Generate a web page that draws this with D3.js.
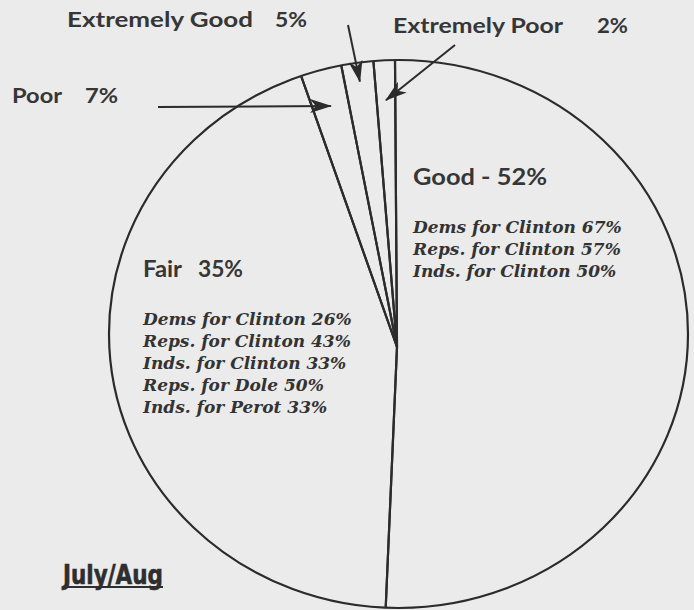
<!DOCTYPE html>
<html>
<head>
<meta charset="utf-8">
<script src="https://cdn.jsdelivr.net/npm/d3@7"></script>
<style>
  html, body { margin: 0; padding: 0; background: #ebebeb; }
  svg { display: block; }
  .head { font-family: Lato, "Noto Sans", sans-serif; font-weight: 700; fill: #363636; }
  .detail { font-family: "DejaVu Serif", serif; font-weight: bold; font-style: italic; fill: #333; }
</style>
</head>
<body>
<div id="chart"></div>
<script>
let WIDTH = 694
let HEIGHT = 610

// slices, in the order they go round the pie from the top, clockwise
let categories = ["Good", "Fair", "Poor", "Extremely Good", "Extremely Poor"]
let reported = [52, 35, 7, 5, 2]
// share of the circle each slice takes as drawn (the drawing is not to scale)
let drawnShare = [50.8, 43.9, 2.3, 1.8, 1.2]

// sub-breakdowns printed inside the two big slices
let goodGroups = ["Dems", "Reps.", "Inds."]
let goodCandidates = ["Clinton", "Clinton", "Clinton"]
let goodValues = [67, 57, 50]

let fairGroups = ["Dems", "Reps.", "Inds.", "Reps.", "Inds."]
let fairCandidates = ["Clinton", "Clinton", "Clinton", "Dole", "Perot"]
let fairValues = [26, 43, 33, 50, 33]

let period = "July/Aug"

let svg = d3.select("#chart")
    .append("svg")
    .attr("width", WIDTH)
    .attr("height", HEIGHT)

// outline of the pie (slightly oval) and the point the slice lines meet
let oval = {cx: 398.5, cy: 334, rx: 289.5, ry: 274}
let hub = {x: 397, y: 347}

svg.append("clipPath")
    .attr("id", "oval")
    .append("ellipse")
    .attr("cx", oval.cx).attr("cy", oval.cy)
    .attr("rx", oval.rx).attr("ry", oval.ry)

let startDeg = -0.4
let pie = d3.pie()
    .sort(null)
    .value(d => d)
    .startAngle(startDeg * Math.PI / 180)
    .endAngle((startDeg + 360) * Math.PI / 180)
let arcs = pie(drawnShare)

let arc = d3.arc().innerRadius(0).outerRadius(420)

svg.append("g")
    .attr("clip-path", "url(#oval)")
    .append("g")
    .attr("transform", `translate(${hub.x},${hub.y})`)
    .selectAll("path")
    .data(arcs)
    .join("path")
    .attr("d", arc)
    .attr("fill", "none")
    .attr("stroke", "#2b2b2b")
    .attr("stroke-width", 2.2)
    .attr("stroke-linejoin", "round")

svg.append("ellipse")
    .attr("cx", oval.cx).attr("cy", oval.cy)
    .attr("rx", oval.rx).attr("ry", oval.ry)
    .attr("fill", "none")
    .attr("stroke", "#2b2b2b")
    .attr("stroke-width", 2.2)

// arrowhead
svg.append("defs").append("marker")
    .attr("id", "head")
    .attr("viewBox", "0 0 22 14")
    .attr("refX", 21).attr("refY", 7)
    .attr("markerWidth", 22).attr("markerHeight", 14)
    .attr("markerUnits", "userSpaceOnUse")
    .attr("orient", "auto")
    .append("path")
    .attr("d", "M0,0 L22,7 L0,14 L6,7 Z")
    .attr("fill", "#2b2b2b")

// point inside a slice at distance r from the hub
let slicePoint = function(i, r) {
    let a = (arcs[i].startAngle + arcs[i].endAngle) / 2
    return [hub.x + r * Math.sin(a), hub.y - r * Math.cos(a)]
}

// a heading made of a name and a percent, each fitted to its width
let heading = function(y, size, parts) {
    parts.forEach(p => {
        svg.append("text")
            .attr("class", "head")
            .attr("x", p.x).attr("y", y)
            .attr("textLength", p.w)
            .attr("lengthAdjust", "spacingAndGlyphs")
            .style("font-size", size + "px")
            .text(p.text)
    })
}

// small slices get a label outside with an arrow pointing in
let callouts = [
    {i: 2, y: 103, nameX: 12, nameW: 50, pctX: 85, pctW: 33, from: [158, 107], r: 250},
    {i: 3, y: 27, nameX: 67, nameW: 186, pctX: 275, pctW: 32, from: [348, 25], r: 268},
    {i: 4, y: 33, nameX: 393, nameW: 170, pctX: 597, pctW: 31, from: [455, 45], r: 247}
]

callouts.forEach(c => {
    heading(c.y, 21, [
        {text: categories[c.i], x: c.nameX, w: c.nameW},
        {text: reported[c.i] + "%", x: c.pctX, w: c.pctW}
    ])

    let tip = slicePoint(c.i, c.r)
    svg.append("line")
        .attr("x1", c.from[0]).attr("y1", c.from[1])
        .attr("x2", tip[0]).attr("y2", tip[1])
        .attr("stroke", "#2b2b2b")
        .attr("stroke-width", 2)
        .attr("marker-end", "url(#head)")
})

// big slices get their label and breakdown inside
heading(185, 22, [{text: `${categories[0]} - ${reported[0]}%`, x: 413, w: 134}])
heading(277, 22, [
    {text: categories[1], x: 143, w: 39},
    {text: reported[1] + "%", x: 198, w: 45}
])

let detailBlock = function(x, y, groups, cands, vals) {
    svg.append("g")
        .selectAll("text")
        .data(vals)
        .join("text")
        .attr("class", "detail")
        .attr("x", x)
        .attr("y", (d, i) => y + i * 22)
        .style("font-size", "17px")
        .text((d, i) => `${groups[i]} for ${cands[i]} ${d}%`)
}

detailBlock(413, 233, goodGroups, goodCandidates, goodValues)
detailBlock(143, 325, fairGroups, fairCandidates, fairValues)

svg.append("text")
    .attr("x", 63).attr("y", 584)
    .attr("textLength", 100)
    .attr("lengthAdjust", "spacingAndGlyphs")
    .style("font-family", "'Liberation Sans Narrow', 'DejaVu Sans Condensed', sans-serif")
    .style("font-weight", "bold")
    .style("font-size", "27px")
    .style("fill", "#2e2e2e")
    .style("stroke", "#2e2e2e")
    .style("stroke-width", 0.6)
    .text(period)

svg.append("line")
    .attr("x1", 63).attr("x2", 163)
    .attr("y1", 587).attr("y2", 587)
    .attr("stroke", "#2e2e2e")
    .attr("stroke-width", 2)
</script>
</body>
</html>
